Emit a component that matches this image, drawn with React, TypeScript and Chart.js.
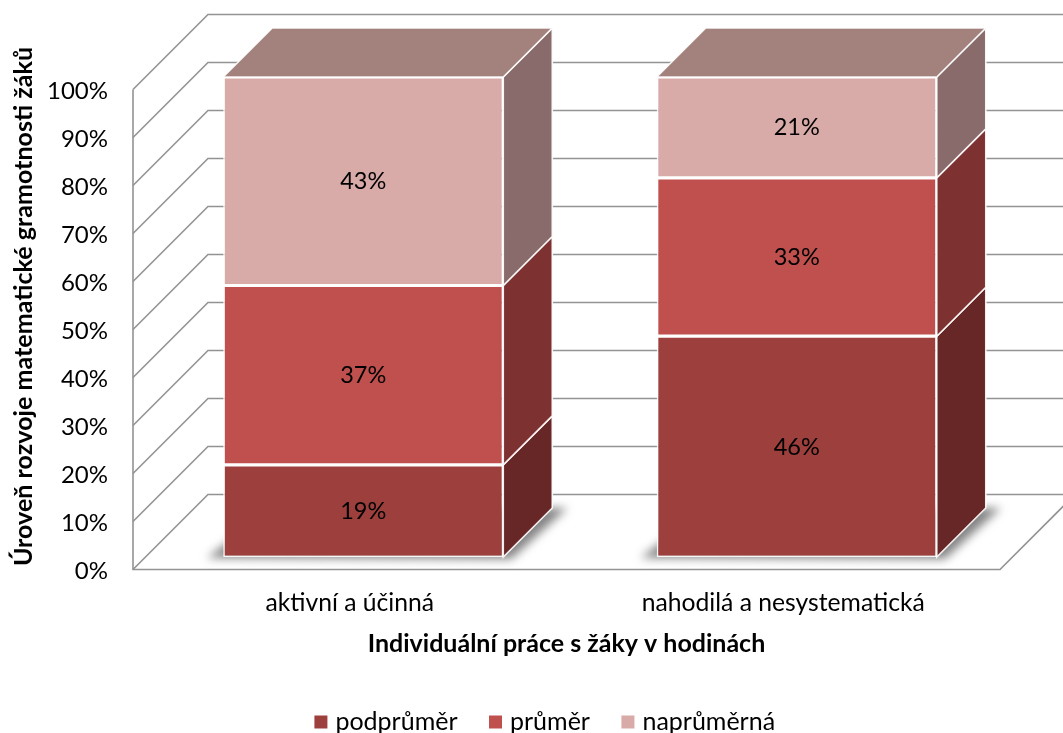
import React, { useEffect, useRef } from "react";
import { Chart, registerables } from "chart.js";

Chart.register(...registerables);

const categories = ["aktivní a účinná", "nahodilá a nesystematická"];
const podprumer = [19, 46];
const prumer = [37, 33];
const naprumerna = [43, 21];
const seriesNames = ["podprůměr", "průměr", "naprůměrná"];
const seriesValues = [podprumer, prumer, naprumerna];
const frontColors = ["#9D403D", "#C0504D", "#D9ABA8"];
const sideColors = ["#672726", "#7D3130", "#896B6B"];
const topColor = "#A3817C";
const yTicks = [0, 10, 20, 30, 40, 50, 60, 70, 80, 90, 100];
const xTitle = "Individuální práce s žáky v hodinách";
const yTitle = "Úroveň rozvoje matematické gramotnosti žáků";

const FONT = "Lato, Carlito, sans-serif";
const WALL = 75; // wall depth, px
const FRONT_X = 13.5; // gap between the axis plane and the bar front
const FRONT_Y = 12.5;
const BAR = 49; // bar depth

// 100 % stacked: every category is normalised to its own total
const totals = categories.map((_, i) => seriesValues.reduce((s, a) => s + a[i], 0));
const shares = seriesValues.map((a) => a.map((v, i) => (v / totals[i]) * 100));

const cube3d = {
  id: "cube3d",
  afterLayout(chart: any) {
    const l = chart.legend;
    if (l) {
      l.left = 0;
      l.right = 1094;
      l.width = 1094;
      l.top = 673.5;
      l.bottom = 733;
    }
    const x = chart.scales.x;
    x.bottom = 733;
    x.height = 733 - x.top;
  },
  beforeDatasetsDraw(chart: any) {
    const { ctx, scales } = chart;
    const y = scales.y;
    const { left, right } = chart.chartArea;
    ctx.save();
    ctx.strokeStyle = "#939393";
    ctx.lineWidth = 1.6;
    ctx.lineJoin = "miter";
    // walls and gridlines
    yTicks.forEach((t) => {
      const p = y.getPixelForValue(t);
      ctx.beginPath();
      ctx.moveTo(left, p);
      ctx.lineTo(left + WALL, p - WALL);
      ctx.lineTo(right + WALL, p - WALL);
      ctx.stroke();
    });
    ctx.beginPath();
    ctx.moveTo(left, y.getPixelForValue(100));
    ctx.lineTo(left, y.getPixelForValue(0));
    ctx.lineTo(right, y.getPixelForValue(0));
    ctx.lineTo(right + WALL, y.getPixelForValue(0) - WALL);
    ctx.stroke();
    ctx.restore();

    // floor shadow
    const metas = chart.data.datasets.map((_: any, i: number) => chart.getDatasetMeta(i));
    metas[0].data.forEach((b: any) => {
      const l0 = b.x - b.width / 2 + FRONT_X;
      const r0 = b.x + b.width / 2 + FRONT_X;
      const yb = y.getPixelForValue(0) - FRONT_Y;
      ctx.save();
      ctx.filter = "blur(5px)";
      ctx.fillStyle = "rgba(85,85,85,0.72)";
      ctx.beginPath();
      ctx.moveTo(l0 - 16, yb + 1);
      ctx.lineTo(r0 + 8, yb + 2);
      ctx.lineTo(r0 + BAR + 15, yb - BAR);
      ctx.lineTo(l0 + BAR, yb - BAR);
      ctx.closePath();
      ctx.fill();
      ctx.restore();
    });

    ctx.save();
    ctx.translate(FRONT_X, -FRONT_Y);

    // side faces and top
    metas.forEach((m: any, di: number) => {
      m.data.forEach((b: any) => {
        const r = b.x + b.width / 2;
        const t = b.y;
        const bt = b.base;
        ctx.fillStyle = sideColors[di];
        ctx.strokeStyle = "rgba(255,255,255,0.9)";
        ctx.lineWidth = 1.6;
        ctx.beginPath();
        ctx.moveTo(r, t);
        ctx.lineTo(r + BAR, t - BAR);
        ctx.lineTo(r + BAR, bt - BAR);
        ctx.lineTo(r, bt);
        ctx.closePath();
        ctx.fill();
        ctx.stroke();
      });
    });
    metas[metas.length - 1].data.forEach((b: any) => {
      const l0 = b.x - b.width / 2;
      const r = b.x + b.width / 2;
      ctx.fillStyle = topColor;
      ctx.strokeStyle = "rgba(255,255,255,0.9)";
      ctx.lineWidth = 1.6;
      ctx.beginPath();
      ctx.moveTo(l0, b.y);
      ctx.lineTo(l0 + BAR, b.y - BAR);
      ctx.lineTo(r + BAR, b.y - BAR);
      ctx.lineTo(r, b.y);
      ctx.closePath();
      ctx.fill();
      ctx.stroke();
    });
  },
  afterDatasetsDraw(chart: any) {
    const { ctx } = chart;
    // value labels, still in the shifted bar plane
    ctx.fillStyle = "#000";
    ctx.font = `23.5px ${FONT}`;
    ctx.textAlign = "center";
    ctx.textBaseline = "middle";
    chart.data.datasets.forEach((_: any, di: number) => {
      chart.getDatasetMeta(di).data.forEach((b: any, i: number) => {
        ctx.fillText(`${seriesValues[di][i]}%`, b.x, (b.y + b.base) / 2 + 0.5);
      });
    });
    ctx.restore();

    // y-axis title
    ctx.save();
    ctx.translate(24, 306.5);
    ctx.rotate(-Math.PI / 2);
    ctx.fillStyle = "#000";
    ctx.font = `bold 25.1px ${FONT}`;
    ctx.textAlign = "center";
    ctx.textBaseline = "middle";
    ctx.fillText(yTitle, 0, 0);
    ctx.restore();
  },
};

export default function App() {
  const ref = useRef<HTMLCanvasElement>(null);
  useEffect(() => {
    const chart = new Chart(ref.current!, {
      type: "bar",
      data: {
        labels: categories,
        datasets: seriesNames.map((label, i) => ({
          label,
          data: shares[i],
          backgroundColor: frontColors[i],
          borderColor: "rgba(255,255,255,0.9)",
          borderWidth: 1.6,
          borderSkipped: false,
          categoryPercentage: 1,
          barPercentage: 0.646,
          clip: false,
        })),
      },
      options: {
        animation: false,
        responsive: false,
        layout: { padding: { left: 0, right: 63, top: 89.5, bottom: 0 } },
        scales: {
          x: {
            stacked: true,
            grid: { display: false, drawTicks: false },
            border: { display: false },
            afterFit: (s: any) => {
              s.height = 163.5 - (s.chart.legend?.height ?? 0);
            },
            ticks: {
              color: "#000",
              padding: 19,
              maxRotation: 0,
              font: { family: FONT, size: 24.7 },
            },
            title: {
              display: true,
              text: xTitle,
              color: "#000",
              font: { family: FONT, size: 25, weight: "bold" },
              padding: { top: 10, bottom: 74 },
            },
          },
          y: {
            stacked: true,
            min: 0,
            max: 100,
            grid: { display: false, drawTicks: false },
            border: { display: false },
            afterFit: (s: any) => {
              s.width = 133;
            },
            afterBuildTicks: (s: any) => {
              s.ticks = yTicks.map((value) => ({ value }));
            },
            ticks: {
              color: "#000",
              padding: 25,
              labelOffset: 1.5,
              font: { family: FONT, size: 24 },
              callback: (v: any) => `${v}%`,
            },
          },
        },
        plugins: {
          tooltip: { enabled: false },
          legend: {
            position: "bottom",
            align: "center",
            labels: {
              color: "#000",
              usePointStyle: true,
              boxWidth: 4,
              boxHeight: 13,
              padding: 36,
              font: { family: FONT, size: 25 },
              generateLabels: (c: any) =>
                c.data.datasets.map((d: any, i: number) => ({
                  text: d.label,
                  fillStyle: d.backgroundColor,
                  strokeStyle: "transparent",
                  lineWidth: 0,
                  pointStyle: "rect",
                  rotation: 0,
                  datasetIndex: i,
                })),
            },
          },
        },
      },
      plugins: [cube3d],
    } as any);
    return () => chart.destroy();
  }, []);
  return (
    <div style={{ position: "absolute", left: 0, top: 0, width: 1063, height: 733 }}>
      <canvas ref={ref} width={1063} height={733} style={{ display: "block" }} />
    </div>
  );
}
